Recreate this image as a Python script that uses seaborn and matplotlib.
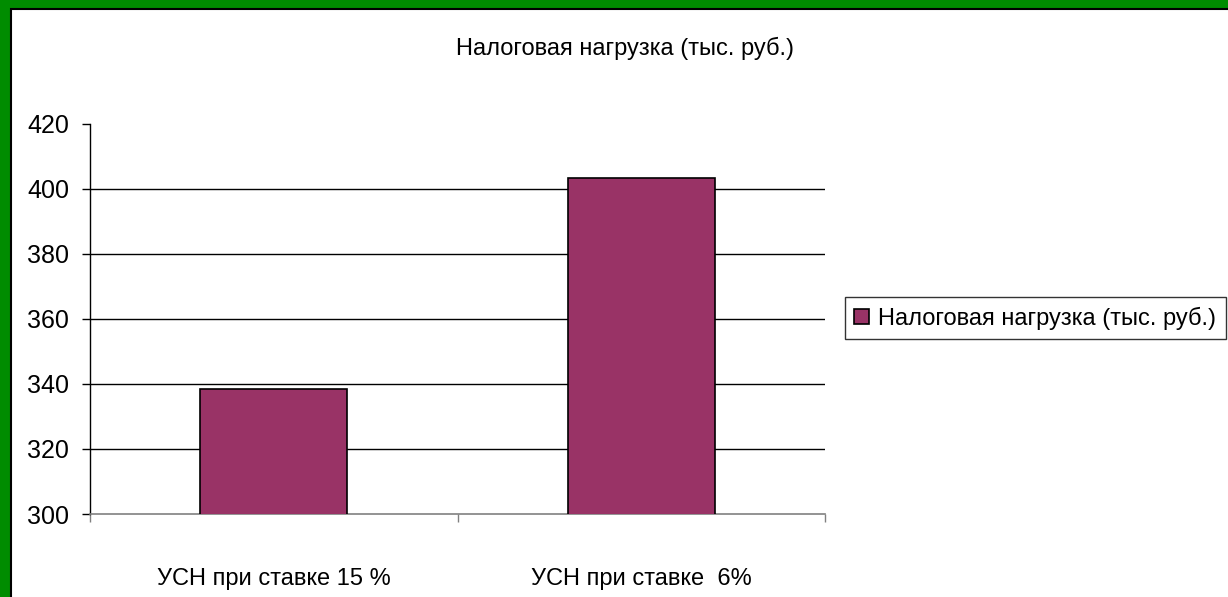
import matplotlib
matplotlib.use("Agg")
import matplotlib.pyplot as plt
from matplotlib.patches import Rectangle
from matplotlib.ticker import FixedLocator
import seaborn as sns

categories = ["УСН при ставке 15 %", "УСН при ставке  6%"]
values = [338.5, 403.5]
series_name = "Налоговая нагрузка (тыс. руб.)"
y_ticks = [300, 320, 340, 360, 380, 400, 420]

sns.set_style("white")
plt.rcParams['font.family'] = ['Liberation Sans Narrow', 'Liberation Sans', 'DejaVu Sans']
plt.rcParams['text.color'] = 'black'
plt.rcParams['xtick.color'] = 'black'
plt.rcParams['ytick.color'] = 'black'

FS = 17

W, H = 1228, 597
fig = plt.figure(figsize=(W / 100, H / 100), dpi=100, facecolor="#008c00")

# white slide area with dark edge on left/top
fig.patches.append(Rectangle((10.5 / W, -0.01), 1.0, 1 - 8.5 / H + 0.01,
                             transform=fig.transFigure, facecolor="white",
                             edgecolor="black", linewidth=1.5, zorder=-1))

ax = fig.add_axes([90 / W, 1 - 514 / H, (825 - 90) / W, (514 - 124) / H])
ax.set_facecolor("none")

sns.barplot(x=categories, y=values, color="#993366", width=0.4,
            edgecolor="black", linewidth=1.2, saturation=1, ax=ax,
            label=series_name, zorder=3)

ax.set_ylim(300, 420)
ax.set_xlim(-0.5, 1.5)
ax.set_yticks(y_ticks)
ax.set_yticklabels([str(t) for t in y_ticks])
ax.tick_params(axis="y", direction="out", length=6, width=1, color="black",
               pad=9, labelsize=FS + 1, left=True)

# category boundary ticks on x axis
ax.xaxis.set_minor_locator(FixedLocator([-0.5, 0.5, 1.5]))
ax.tick_params(axis="x", which="minor", direction="out", length=6, width=1,
               color="#808080", bottom=True)
ax.tick_params(axis="x", which="major", length=0, pad=39, labelsize=FS)

for t in [320, 340, 360, 380, 400]:
    ax.axhline(t, color="black", linewidth=1, zorder=1)

for side in ["top", "right"]:
    ax.spines[side].set_visible(False)
ax.spines["left"].set_color("black")
ax.spines["left"].set_linewidth(1)
ax.spines["bottom"].set_color("#808080")
ax.spines["bottom"].set_linewidth(1.2)
ax.set_xlabel("")
ax.set_ylabel("")

fig.text(625 / W, 1 - 48 / H, series_name, ha="center", va="center", fontsize=FS)

leg = ax.legend(loc="center left", bbox_to_anchor=(845 / W, 1 - 318 / H),
                bbox_transform=fig.transFigure, fontsize=FS, frameon=True,
                fancybox=False, handlelength=0.6, handleheight=0.6,
                handletextpad=0.4, borderpad=0.4, borderaxespad=0)
leg.get_frame().set_edgecolor("black")
leg.get_frame().set_linewidth(1)

fig.savefig("out.png", dpi=100, facecolor=fig.get_facecolor())
